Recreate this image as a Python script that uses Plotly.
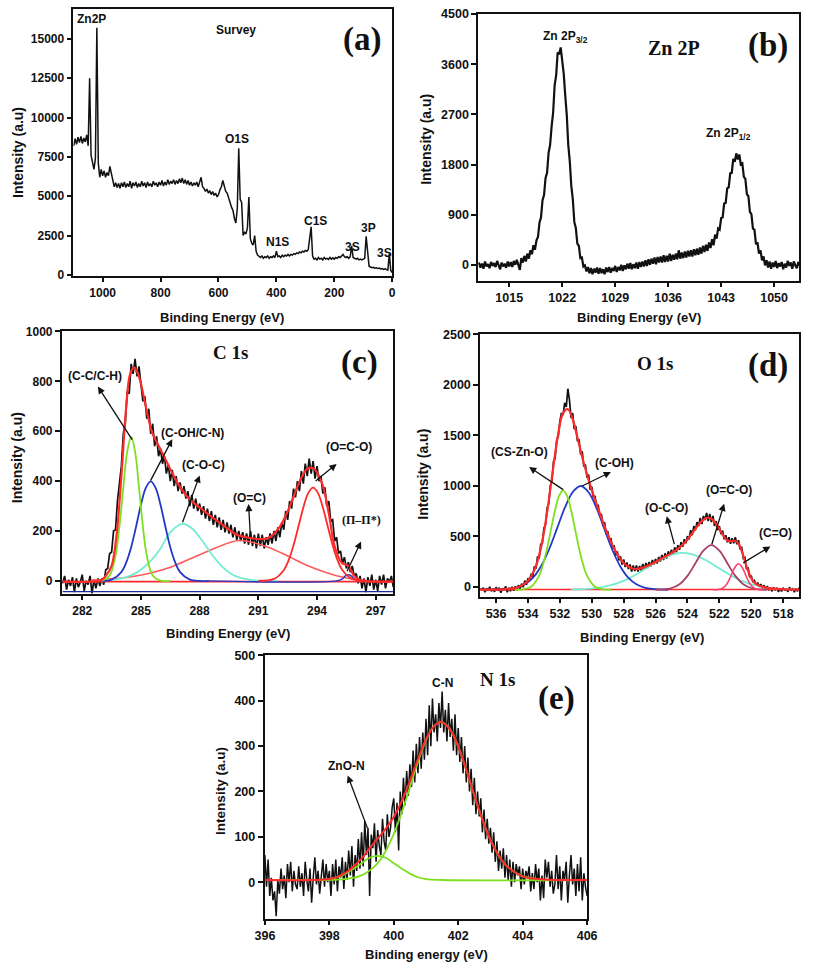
import numpy as np
import plotly.graph_objects as go

# ======================= DATA =======================
# (a) Survey spectrum: binding energy 1100 -> 0 eV, every 5 eV
survey_counts = [
    8200, 8650, 8300, 8750, 8400, 8800, 8350, 8700, 8450, 8900,   # 1100-1055
    8200, 12500, 7600, 7200, 6700, 7400, 15700, 7100, 6200, 6700, # 1050-1005
    6300, 6600, 6200, 6500, 6300, 6900, 6500, 6000, 5600, 5850,   # 1000-955
    5550, 5800, 5500, 5850, 5600, 5900, 5550, 5800, 5600, 5950,   # 950-905
    5500, 5850, 5650, 5900, 5550, 5800, 5600, 5950, 5650, 5850,   # 900-855
    5550, 5900, 5650, 5800, 5600, 5950, 5700, 5850, 5600, 5900,   # 850-805
    5700, 6000, 5650, 5900, 5700, 6050, 5750, 5950, 5800, 6050,   # 800-755
    5750, 6000, 5800, 6100, 5850, 6150, 5800, 6050, 5750, 6000,   # 750-705
    5700, 5900, 5650, 5850, 5700, 5900, 5600, 5900, 6200, 5600,   # 700-655
    5500, 5300, 5450, 5200, 5350, 5100, 5300, 5050, 5200, 4950,   # 650-605
    5100, 5400, 5600, 6000, 5600, 5300, 5200, 4800, 4600, 4300,   # 600-555
    4100, 3600, 3300, 4200, 8050, 4800, 4600, 2500, 2700, 2600,   # 550-505
    3000, 4950, 2300, 2000, 1900, 2500, 1500, 1250, 1150, 1100,   # 500-455
    1200, 1050, 1150, 1100, 1200, 1050, 1150, 1100, 1200, 1100,   # 450-405
    1500, 1150, 1200, 1100, 1250, 1150, 1250, 1200, 1300, 1200,   # 400-355
    1300, 1250, 1350, 1300, 1400, 1350, 1450, 1400, 1500, 1450,   # 350-305
    1550, 1500, 1600, 2350, 3050, 1200, 1000, 1050, 950, 1100,    # 300-255
    1000, 1050, 950, 1100, 1000, 1050, 980, 1100, 1000, 1080,     # 250-205
    1000, 1100, 1050, 1150, 1100, 1200, 1300, 1150, 1100, 1150,   # 200-155
    1050, 1150, 1850, 1100, 1050, 1000, 1050, 950, 1000, 950,     # 150-105
    1000, 1050, 2450, 1300, 550, 500, 450, 480, 420, 450,         # 100-55
    400, 430, 380, 400, 350, 380, 330, 300, 1350, 280,            # 50-5
    150,                                                          # 0
]
survey_be = np.linspace(1100, 0, 221)

# (b) Zn 2p spectrum: 1011.0 -> 1053.4 eV every 0.2 eV
zn_counts = [
    40, -50, 20, -70, 60, -30, 10, -60, 50, -20,
    30, -40, 70, -10, -80, 40, -30, 20, -55, 60,
    -30, 50, -40, 70, 0, 90, -10, -90, 120, 40,
    160, 60, 200, 110, 260, 190, 350, 270, 440, 500,
    760, 850, 1160, 1250, 1560, 1650, 2010, 2150, 2480, 2730,
    3220, 3400, 3810, 3780, 3900, 3650, 3430, 3040, 2700, 2150,
    1860, 1420, 1180, 770, 660, 380, 340, 120, 130, -30,
    -10, -120, -40, -150, -60, -170, -70, -140, -50, -160,
    -60, -150, -80, -170, -50, -130, -40, -140, -60, -110,
    -20, -130, -40, -100, 0, -110, -10, -80, 20, -70,
    30, -80, 10, -60, 40, -70, 50, -40, 60, -30,
    80, -20, 100, 0, 110, 20, 130, 10, 140, 40,
    150, 40, 170, 50, 160, 60, 200, 70, 180, 90,
    200, 100, 260, 110, 220, 120, 240, 130, 250, 150,
    260, 150, 280, 170, 290, 180, 310, 200, 340, 230,
    360, 250, 400, 300, 460, 350, 540, 470, 650, 630,
    840, 850, 1100, 1110, 1370, 1390, 1640, 1650, 1900, 1850,
    2000, 1890, 1980, 1800, 1820, 1580, 1540, 1270, 1230, 950,
    910, 650, 630, 370, 400, 200, 260, 80, 150, -10,
    80, -50, 60, -70, 40, -40, 70, -60, 30, -30,
    50, -80, 20, -50, 70, -20, 40, -70, 60, -10,
    -60, 50, -20,
]
zn_be = np.linspace(1011.0, 1053.4, 213)

# (c) C 1s raw: 281.0 -> 298.0 eV every 0.1 eV
c1s_counts = [
    -10, 20, -35, 5, -20, 15, -45, 10, -25, -5,
    25, -40, 0, -15, 20, -50, 5, -30, 10, -20,
    10, -15, 45, 50, 110, 115, 200, 205, 320, 380,
    460, 590, 630, 760, 750, 870, 830, 890, 820, 860,
    800, 720, 740, 650, 690, 590, 630, 540, 580, 500,
    530, 470, 500, 430, 465, 400, 445, 380, 420, 360,
    395, 350, 380, 330, 360, 300, 345, 290, 330, 280,
    310, 265, 300, 250, 290, 240, 280, 225, 265, 215,
    255, 205, 245, 195, 235, 190, 225, 175, 215, 165,
    200, 160, 195, 150, 190, 145, 200, 140, 185, 130,
    190, 140, 185, 130, 175, 145, 190, 150, 200, 160,
    215, 175, 235, 205, 280, 245, 320, 290, 370, 335,
    400, 360, 440, 390, 470, 420, 490, 430, 480, 410,
    460, 400, 420, 350, 375, 300, 320, 240, 245, 160,
    175, 110, 120, 70, 95, 50, 75, 35, 60, 20,
    30, -10, 20, -30, 10, -45, 15, -20, 25, -35,
    5, -40, 20, -15, 25, -30, 10, -5, 20, -25, 0,
]
c1s_be = np.linspace(281.0, 298.0, 171)

c1s_env_be = [281, 282.5, 283.0, 283.25, 283.5, 283.75, 284.0, 284.25, 284.45, 284.65, 284.85,
              285.0, 285.3, 285.6, 285.95, 286.45, 286.95, 287.45, 287.95, 288.6, 289.3, 289.9,
              290.6, 291.3, 291.6, 292.1, 292.6, 293.1, 293.5, 293.85, 294.26, 294.6, 294.9,
              295.26, 295.6, 295.9, 296.25, 297, 298]
c1s_env = [-3, -3, 5, 25, 60, 180, 420, 700, 830, 855, 830,
           790, 680, 588, 535, 456, 383, 330, 297, 258, 218, 185,
           172, 168, 176, 218, 297, 396, 449, 449, 390, 271, 139,
           73, 60, 20, 3, -3, -3]

cc_be = [283.0, 283.4, 283.7, 283.9, 284.1, 284.3, 284.5, 284.7, 284.9, 285.1, 285.3, 285.6, 286.0, 286.5]
cc_fit = [1, 22, 102, 218, 375, 518, 577, 518, 375, 218, 102, 22, 1, 0]
coh_be = [283.0, 283.5, 284.0, 284.25, 284.5, 284.75, 285.0, 285.25, 285.5, 285.75, 286.0,
          286.25, 286.5, 286.75, 287.0, 287.5, 288.0, 288.5]
coh_fit = [0, 5, 35, 74, 135, 217, 305, 373, 399, 373, 305, 217, 135, 74, 35, 5, 0, 0]
coc_be = [283.0, 283.5, 284.0, 284.5, 285.0, 285.5, 286.0, 286.5, 287.1, 287.6, 288.1, 288.6,
          289.1, 289.6, 290.1, 290.6, 291.1, 292.0]
coc_fit = [1, 4, 10, 22, 45, 80, 130, 195, 229, 211, 165, 109, 61, 29, 12, 4, 1, 0]
oc_be = [282.5, 283.5, 284.5, 285.5, 286.5, 287.5, 288.5, 289.5, 290.0, 290.5, 291.5, 292.5,
         293.5, 294.5, 295.5, 296.5]
oc_fit = [3, 8, 17, 32, 55, 88, 122, 153, 162, 158, 135, 100, 62, 33, 12, 2]
oco_be = [291.0, 291.8, 292.3, 292.55, 292.8, 293.05, 293.3, 293.55, 293.8, 294.05, 294.3,
          294.55, 294.8, 295.05, 295.3, 295.8, 296.5]
oco_fit = [0, 8, 43, 83, 143, 218, 294, 352, 374, 352, 294, 218, 143, 83, 43, 8, 0]
pi_be = [288.5, 295.0, 295.3, 295.45, 295.6, 295.75, 295.9, 296.2]
pi_fit = [0, 0, 8, 20, 25, 20, 8, 0]

# (d) O 1s raw: 517.0 -> 537.0 eV every 0.1 eV
o1s_counts = [
    -10, -45, -20, -55, -15, -40, -5, -50, -25, -35,
    -15, -45, -20, -50, -10, -35, -5, -45, -15, -30,
    5, -25, 15, -15, 25, 0, 40, 15, 60, 45,
    110, 95, 190, 175, 290, 280, 395, 370, 460, 420,
    490, 430, 480, 425, 490, 440, 510, 470, 555, 520,
    600, 560, 650, 600, 700, 640, 720, 650, 730, 660,
    700, 620, 680, 600, 640, 560, 600, 510, 560, 470,
    500, 430, 470, 395, 440, 365, 410, 340, 390, 320,
    365, 305, 350, 280, 330, 265, 315, 250, 295, 230,
    275, 220, 265, 200, 245, 185, 235, 170, 225, 160,
    205, 150, 210, 155, 210, 150, 220, 175, 240, 195,
    270, 220, 300, 260, 350, 310, 410, 380, 480, 450,
    550, 520, 640, 600, 720, 700, 810, 790, 900, 880,
    990, 960, 1110, 1080, 1210, 1190, 1340, 1310, 1460, 1440,
    1590, 1560, 1720, 1670, 1850, 1960, 1780, 1820, 1700, 1720,
    1640, 1490, 1450, 1270, 1240, 1040, 1000, 820, 780, 610,
    580, 430, 420, 280, 300, 180, 200, 100, 130, 55,
    85, 20, 60, -5, 30, -20, 15, -35, 5, -40,
    0, -45, -10, -55, 5, -35, -15, -60, -10, -40,
    -5, -50, -20, -45, 0, -40, -15, -55, -10, -30, -20,
]
o1s_be = np.linspace(517.0, 537.0, 201)

o1s_env_be = [517, 518.3, 519.0, 519.5, 519.8, 520.0, 520.3, 520.55, 520.8, 521.05, 521.3, 521.55,
              521.8, 522.1, 522.5, 522.8, 523.2, 523.6, 524.0, 524.5, 525.0, 525.5, 526.0, 526.5,
              527.0, 527.5, 528.0, 528.5, 529.0, 529.5, 530.0, 530.5, 530.9, 531.2, 531.5, 531.8,
              532.1, 532.4, 532.7, 533.0, 533.3, 533.6, 534.0, 534.4, 534.8, 535.3, 536.0, 537.0]
o1s_env = [-30, -22, -10, 10, 40, 83, 201, 331, 428, 455, 449, 464,
           519, 598, 673, 681, 634, 552, 468, 387, 333, 290, 245, 206,
           179, 183, 235, 349, 519, 728, 956, 1222, 1478, 1660, 1757, 1718,
           1517, 1199, 848, 539, 310, 164, 59, 11, -12, -24, -29, -30]

cszn_be = [528.8, 529.3, 529.8, 530.3, 530.55, 530.8, 531.05, 531.3, 531.55, 531.8, 532.05,
           532.3, 532.55, 532.8, 533.05, 533.3, 533.8, 534.3, 534.8]
cszn_fit = [-30, -26, 0, 109, 224, 382, 572, 760, 899, 951, 899, 760, 572, 382, 224, 109, 0, -26, -30]
ooh_be = [525.2, 526.2, 526.7, 527.2, 527.7, 528.2, 528.7, 529.2, 529.7, 530.2, 530.7, 531.2,
          531.7, 532.2, 532.7, 533.2, 533.7, 534.2, 534.7, 535.2, 536.2]
ooh_fit = [-30, -22, -8, 24, 87, 198, 361, 567, 777, 935, 997, 935, 777, 567, 361, 198, 87, 24, -8, -22, -30]
oco2_be = [517.3, 518.3, 518.8, 519.3, 519.8, 520.3, 520.8, 521.3, 521.8, 522.3, 522.8, 523.3,
           523.8, 524.3, 524.8, 525.3, 525.8, 526.3, 526.8, 527.3, 527.8, 528.3, 528.8, 529.3,
           529.8, 530.3, 531.3]
oco2_fit = [-28, -22, -14, -2, 15, 40, 73, 114, 161, 211, 259, 298, 325, 334, 325, 298, 259, 211,
            161, 114, 73, 40, 15, -2, -14, -22, -28]
ocoo_be = [519.0, 519.5, 520.0, 520.5, 521.0, 521.5, 522.0, 522.5, 523.0, 523.5, 524.0, 524.5,
           525.0, 525.5, 526.0]
ocoo_fit = [-30, -26, -13, 25, 107, 233, 358, 412, 358, 233, 107, 25, -13, -26, -30]
co_be = [519.3, 519.55, 519.8, 520.05, 520.3, 520.55, 520.8, 521.05, 521.3, 521.55, 521.8, 522.05, 522.4]
co_fit = [-30, -28, -15, 22, 96, 185, 227, 185, 96, 22, -15, -28, -30]
o1s_base_be = [517.0, 537.0]
o1s_base = [-28, -28]

# (e) N 1s raw: 396.00 -> 406.00 eV every 0.05 eV
n1s_counts = [
    60, -10, 50, -30, 10, -40, -20, -75, 5, -25, 30, -15, 15, -35, 40, 0, 45, -20, 25, -5,
    -15, 35, -10, 20, -30, 45, 5, -20, 30, -45, 10, 55, -5, 25, -25, 15, 50, -10, 40, 0,
    25, -30, 40, -5, 50, -20, 35, 10, 55, -15, 45, 5, 70, 15, 80, -10, 60, 25, 95, 30,
    110, 35, 135, 60, 120, -30, 105, 75, 130, 45, 115, 80, 60, 140, 90, 70, 150, 100, 120, 165,
    185, 110, 175, 70, 200, 150, 230, 170, 245, 190, 260, 210, 290, 220, 305, 240, 320, 250, 330, 270,
    360, 280, 390, 300, 405, 330, 370, 310, 395, 340, 420, 330, 380, 310, 395, 320, 360, 290, 370, 280,
    340, 265, 320, 240, 300, 220, 275, 200, 250, 170, 230, 150, 200, 145, 185, 110, 160, 95, 140, 85,
    120, 65, 110, 45, 90, 25, 70, 30, 75, 10, 60, 5, 50, -10, 45, 0, 40, 15, 35, -15,
    30, -5, 25, 10, 35, -20, 20, -15, 40, 0, 30, -40, 15, -35, 50, 10, 45, -10, 25, -25,
    -5, 60, -15, 35, -40, 25, 5, 45, -45, 15, 60, -5, 30, -30, 40, -20, 55, -40, 20, -10,
    -30,
]
n1s_be = np.linspace(396.0, 406.0, 201)

cn_be = [396.0, 397.96, 398.46, 398.96, 399.46, 399.71, 399.96, 400.21, 400.46, 400.71, 400.96,
         401.21, 401.46, 401.71, 401.96, 402.21, 402.46, 402.71, 402.96, 403.21, 403.46, 403.96,
         404.46, 404.96, 406.0]
cn_fit = [5, 5, 7, 14, 39, 64, 100, 146, 200, 256, 306, 341, 353, 341, 306, 256, 200, 146, 100,
          64, 39, 14, 7, 5, 5]
znon_be = [396.0, 397.5, 398.0, 398.25, 398.5, 398.75, 399.0, 399.25, 399.5, 399.75, 400.0,
           400.25, 400.5, 400.75, 401.0, 401.5, 406.0]
znon_fit = [5, 5, 7, 11, 19, 30, 42, 54, 58, 54, 42, 30, 19, 11, 7, 5, 5]
n1s_env_be = [396, 397.5, 398.0, 398.25, 398.5, 398.75, 399.0, 399.25, 399.5, 399.75, 400.0,
              400.25, 400.5, 400.75, 401.0, 401.25, 401.46, 401.75, 402.0, 402.25, 402.5,
              402.75, 403.0, 403.25, 403.5, 404.0, 404.5, 405.0, 406.0]
n1s_env = [5, 5, 7, 12, 21, 35, 52, 75, 96, 118, 144, 179, 223, 271, 315, 344, 353, 336,
           299, 248, 191, 138, 93, 60, 36, 13, 7, 5, 5]

assert len(survey_counts) == len(survey_be)
assert len(zn_counts) == len(zn_be)
assert len(c1s_counts) == len(c1s_be)
assert len(o1s_counts) == len(o1s_be)
assert len(n1s_counts) == len(n1s_be)

# ======================= STYLE =======================
W, H = 813, 970
SANS = "Liberation Sans, Arial, sans-serif"
SERIF = "Liberation Serif, Times New Roman, serif"
BLACK = "#111111"
GREEN = "#7ddf1e"
BLUE = "#2438c8"
CYAN = "#74ecd2"
RED = "#ff2a2a"
RED2 = "#ff5a5a"
MAROON = "#a4416c"
PINK = "#ff4070"

fig = go.Figure()


def add_line(x, y, ax, color, width, shape="linear"):
    xa = "x" if ax == 1 else "x%d" % ax
    ya = "y" if ax == 1 else "y%d" % ax
    fig.add_trace(go.Scatter(x=x, y=y, mode="lines", xaxis=xa, yaxis=ya,
                             line=dict(color=color, width=width, shape=shape),
                             showlegend=False, hoverinfo="skip"))


# (a)
add_line(survey_be, survey_counts, 1, BLACK, 1.5)
# (b)
add_line(zn_be, zn_counts, 2, BLACK, 2.2)
# (c)
add_line(c1s_be, c1s_counts, 3, BLACK, 1.7)
add_line([281.0, 297.9], [-43, -43], 3, "#1d2a9a", 1.2)
add_line([281.0, 298.0], [-3, -3], 3, RED, 1.6)
add_line(oc_be, oc_fit, 3, RED2, 1.6, "spline")
add_line(coc_be, coc_fit, 3, CYAN, 1.8, "spline")
add_line(coh_be, coh_fit, 3, BLUE, 1.8, "spline")
add_line(pi_be, pi_fit, 3, BLUE, 1.4, "spline")
add_line(oco_be, oco_fit, 3, RED, 1.8, "spline")
add_line(cc_be, cc_fit, 3, GREEN, 1.8, "spline")
add_line(c1s_env_be, c1s_env, 3, RED, 2.2, "spline")
# (d)
add_line(o1s_be, o1s_counts, 4, BLACK, 1.7)
add_line(o1s_base_be, o1s_base, 4, RED, 1.6)
add_line(oco2_be, oco2_fit, 4, CYAN, 1.8, "spline")
add_line(ooh_be, ooh_fit, 4, BLUE, 1.8, "spline")
add_line(ocoo_be, ocoo_fit, 4, MAROON, 1.8, "spline")
add_line(co_be, co_fit, 4, PINK, 1.6, "spline")
add_line(cszn_be, cszn_fit, 4, GREEN, 1.8, "spline")
add_line(o1s_env_be, o1s_env, 4, RED, 2.2, "spline")
# (e)
add_line(n1s_be, n1s_counts, 5, BLACK, 1.5)
add_line(znon_be, znon_fit, 5, GREEN, 1.8, "spline")
add_line(cn_be, cn_fit, 5, GREEN, 1.8, "spline")
add_line(n1s_env_be, n1s_env, 5, RED, 2.0, "spline")


def dom_x(a, b):
    return [a / W, b / W]


def dom_y(top, bottom):
    return [1 - bottom / H, 1 - top / H]


def axis(domain, rng, tick0, dtick, anchor, size=12.5):
    return dict(domain=domain, range=rng, anchor=anchor, tickmode="linear", tick0=tick0,
                dtick=dtick, tickformat="d", showline=True, linecolor=BLACK, linewidth=1.6,
                mirror=True, ticks="outside", ticklen=5, tickwidth=1.5, tickcolor=BLACK,
                showgrid=False, zeroline=False,
                tickfont=dict(family=SANS, size=size, color=BLACK, weight="bold"))


panels = {
    1: dict(x=dom_x(65, 392), y=dom_y(3, 273), xr=[1101, -0.5], yr=[-50, 16900],
            xt=(0, 200), yt=(0, 2500), fs=12),
    2: dict(x=dom_x(480, 809), y=dom_y(8, 278), xr=[1010.9, 1053.3], yr=[-283, 4503],
            xt=(1015, 7), yt=(0, 900), fs=12.5),
    3: dict(x=dom_x(53, 393), y=dom_y(329, 595), xr=[280.95, 297.9], yr=[-51, 1002],
            xt=(282, 3), yt=(0, 200), fs=12),
    4: dict(x=dom_x(482, 809), y=dom_y(332, 598), xr=[537.0, 517.0], yr=[-98, 2503],
            xt=(518, 2), yt=(0, 500), fs=12.5),
    5: dict(x=dom_x(261, 592), y=dom_y(657, 924), xr=[395.99, 406.01], yr=[-80, 501],
            xt=(396, 2), yt=(0, 100), fs=12.5),
}
layout = {}
for i, p in panels.items():
    sx = "xaxis" if i == 1 else "xaxis%d" % i
    sy = "yaxis" if i == 1 else "yaxis%d" % i
    ax_x = "x" if i == 1 else "x%d" % i
    ax_y = "y" if i == 1 else "y%d" % i
    layout[sx] = axis(p["x"], p["xr"], p["xt"][0], p["xt"][1], ax_y, p["fs"])
    layout[sy] = axis(p["y"], p["yr"], p["yt"][0], p["yt"][1], ax_x, p["fs"])

fig.update_layout(width=W, height=H, margin=dict(l=0, r=0, t=0, b=0),
                  paper_bgcolor="white", plot_bgcolor="white", showlegend=False, **layout)


def label(text, px, py, size=12, family=SANS, angle=0):
    fig.add_annotation(text=text, x=px / W, y=1 - py / H, xref="paper", yref="paper",
                       showarrow=False, xanchor="center", yanchor="middle", textangle=angle,
                       font=dict(family=family, size=size, color=BLACK, weight="bold"))


# axis titles
label("Binding Energy (eV)", 217, 315, 13)
label("Binding Energy (eV)", 645, 315, 13)
label("Binding Energy (eV)", 224, 635, 13)
label("Binding Energy (eV)", 648, 639, 13)
label("Binding energy (eV)", 427, 960, 13)
label("Intensity (a.u)", 8, 148, 14, angle=-90)
label("Intensity (a.u)", 427, 135, 14, angle=-90)
label("Intensity (a.u)", 8, 457, 14, angle=-90)
label("Intensity (a.u)", 424, 474, 14, angle=-90)
label("Intensity (a.u)", 215, 795, 13.5, angle=-90)

# panel letters and titles
label("(a)", 361, 34, 33, SERIF)
label("(b)", 777, 40, 33, SERIF)
label("(c)", 358, 361, 33, SERIF)
label("(d)", 777, 364, 33, SERIF)
label("(e)", 560, 701, 33, SERIF)
label("Zn 2P", 681, 43, 20, SERIF)
label("C 1s", 226, 351, 19, SERIF)
label("O 1s", 661, 362, 19, SERIF)
label("N 1s", 500, 682, 19, SERIF)

# (a) peak labels
label("Zn2P", 84, 13)
label("Survey", 232, 24)
label("O1S", 233, 135)
label("N1S", 274, 239)
label("C1S", 313, 218)
label("3S", 351, 244)
label("3P", 368, 225)
label("3S", 384, 250)

# (b)
label("Zn 2P<sub>3/2</sub>", 569, 31)
label("Zn 2P<sub>1/2</sub>", 737, 130)

# (c)
label("(C-C/C-H)", 87, 375)
label("(C-OH/C-N)", 187, 432)
label("(C-O-C)", 198, 465)
label("(O=C)", 246, 498)
label("(O=C-O)", 348, 447)
label("(Π–Π*)", 360, 520, 12, SERIF)

# (d)
label("(CS-Zn-O)", 522, 452)
label("(C-OH)", 620, 463)
label("(O-C-O)", 673, 508)
label("(O=C-O)", 737, 490)
label("(C=O)", 785, 534)

# (e)
label("C-N", 443, 685)
label("ZnO-N", 345, 770)


def arrow(ax_id, head, tail):
    xr = "x%d" % ax_id
    yr = "y%d" % ax_id
    fig.add_annotation(x=head[0], y=head[1], ax=tail[0], ay=tail[1], xref=xr, yref=yr,
                       axref=xr, ayref=yr, text="", showarrow=True, arrowhead=2,
                       arrowsize=1.1, arrowwidth=1.3, arrowcolor=BLACK, standoff=0,
                       startstandoff=0)


arrow(3, (282.8, 779), (284.6, 560))
arrow(3, (286.6, 568), (285.45, 396))
arrow(3, (288.0, 423), (287.1, 229))
arrow(3, (290.5, 308), (290.6, 172))
arrow(3, (295.0, 469), (293.85, 396))
arrow(3, (296.25, 158), (295.5, 33))

arrow(4, (533.93, 1185), (531.7, 951))
arrow(4, (528.8, 1136), (530.7, 990))
arrow(4, (525.3, 698), (524.8, 406))
arrow(4, (521.7, 821), (522.5, 406))
arrow(4, (518.8, 399), (520.6, 227))

arrow(5, (398.57, 235), (399.2, 116))

fig.write_html("out.html", config={"displayModeBar": False},
               post_script="document.body.style.margin='0';document.body.style.overflow='hidden';")
